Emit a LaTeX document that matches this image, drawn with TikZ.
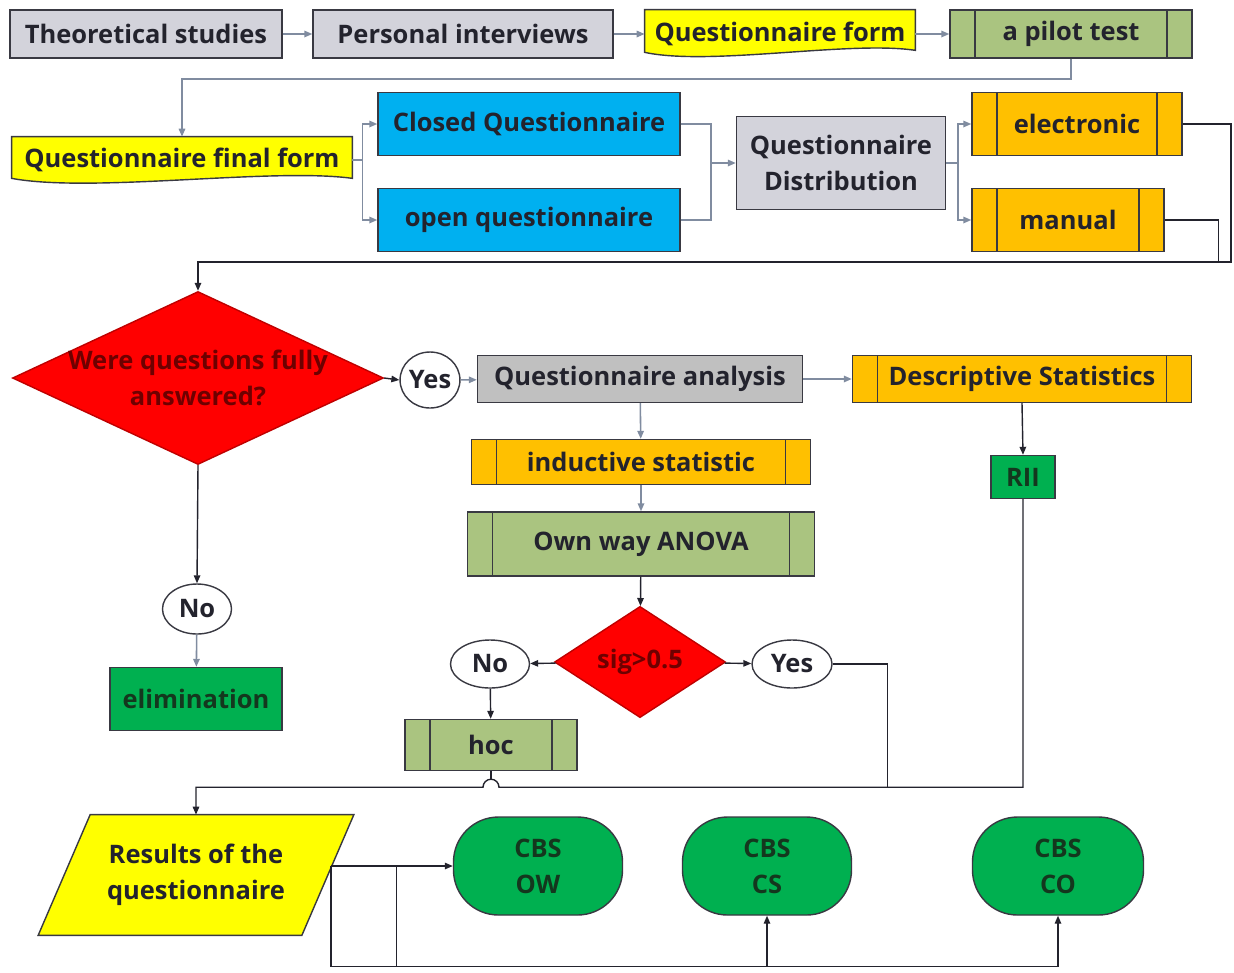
\documentclass[tikz,border=0pt]{standalone}
\usepackage{fontspec}
\setmainfont{Open Sans}
\usetikzlibrary{shapes.geometric, arrows.meta, positioning, calc, backgrounds}

\definecolor{boxgray}{RGB}{211,211,219}
\definecolor{midgray}{RGB}{192,192,192}
\definecolor{docyellow}{RGB}{255,255,0}
\definecolor{procgreen}{RGB}{170,196,128}
\definecolor{qblue}{RGB}{0,176,240}
\definecolor{procorange}{RGB}{255,192,0}
\definecolor{decred}{RGB}{255,0,0}
\definecolor{termgreen}{RGB}{0,176,80}
\definecolor{linkgray}{RGB}{128,140,160}
\definecolor{inkdark}{RGB}{35,35,45}
\definecolor{inkred}{RGB}{110,0,0}
\definecolor{inkgreen}{RGB}{20,55,30}

\tikzset{
  basebox/.style={draw=inkdark!90, line width=0.8pt, text=inkdark, font=\bfseries\fontsize{14.5}{20.5}\selectfont, align=center, inner sep=1pt},
  plainbox/.style={basebox, rectangle, fill=boxgray},
  subbox/.style={basebox, rectangle, path picture={
      \draw[inkdark!90, line width=0.8pt]
        ([xshift=5mm]path picture bounding box.north west) -- ([xshift=5mm]path picture bounding box.south west)
        ([xshift=-5mm]path picture bounding box.north east) -- ([xshift=-5mm]path picture bounding box.south east);}},
  docbox/.style={rectangle, text=inkdark, font=\bfseries\fontsize{14.5}{20.5}\selectfont, align=center, inner sep=1pt},
  docline/.style={fill=docyellow, draw=inkdark!90, line width=0.8pt},
  decision/.style={basebox, diamond, fill=decred, draw=decred!75!black, text=inkred, inner sep=0pt},
  answer/.style={basebox, ellipse, fill=white, inner sep=0pt},
  endbox/.style={basebox, rectangle, fill=termgreen, text=inkgreen},
  glink/.style={draw=linkgray, line width=0.9pt, -{Triangle[length=1.6mm,width=1.3mm]}},
  blink/.style={draw=inkdark, line width=0.8pt, -{Triangle[length=1.6mm,width=1.3mm]}},
  bline/.style={draw=inkdark, line width=0.8pt},
}

\begin{document}
\begin{tikzpicture}[x=0.2mm, y=-0.2mm]
  \useasboundingbox (0,0) rectangle (1234,972);

  % preparation
  \node[plainbox, minimum width=54.4mm, minimum height=9.6mm] (theo) at (146,34) {Theoretical studies};
  \node[plainbox, minimum width=60mm, minimum height=9.6mm] (interv) at (463,34) {Personal interviews};
  \node[docbox, minimum width=54mm, minimum height=9.6mm] (qform) at (780,34) {Questionnaire form};
  \node[subbox, fill=procgreen, minimum width=48.4mm, minimum height=9.6mm] (pilot) at (1071,34) {a pilot test};

  \node[docbox, minimum width=68mm, minimum height=9.2mm] (final) at (182,160) {Questionnaire final form};
  \node[basebox, fill=qblue, minimum width=60.4mm, minimum height=12.6mm] (closed) at (529,124) {Closed Questionnaire};
  \node[basebox, fill=qblue, minimum width=60.4mm, minimum height=12.6mm] (open) at (529,220) {open questionnaire};
  \node[plainbox, minimum width=41.8mm, minimum height=18.6mm] (distr) at (841,163) {Questionnaire\\Distribution};
  \node[subbox, fill=procorange, minimum width=42mm, minimum height=12.6mm] (elec) at (1077,124) {electronic};
  \node[subbox, fill=procorange, minimum width=38.4mm, minimum height=12.6mm] (manual) at (1068,220) {manual};

  % analysis
  \node[decision, minimum width=74.2mm, minimum height=34.6mm,
    label={[name=q1text, text=inkred, font=\bfseries\fontsize{14.5}{20.5}\selectfont, align=center]center:Were questions fully\\answered?}] (q1) at (198,378) {};
  \node[answer, minimum width=11mm, minimum height=11.2mm] (yes1) at (430,380) {Yes};
  \node[basebox, fill=midgray, minimum width=65mm, minimum height=9.4mm] (analysis) at (640,379) {Questionnaire analysis};
  \node[subbox, fill=procorange, minimum width=67.8mm, minimum height=9.4mm] (descr) at (1022,379) {Descriptive Statistics};
  \node[endbox, minimum width=12.8mm, minimum height=8.6mm] (rii) at (1023,477) {RII};
  \node[subbox, fill=procorange, minimum width=67.8mm, minimum height=9mm] (induct) at (641,462) {inductive statistic};
  \node[subbox, fill=procgreen, minimum width=69.4mm, minimum height=12.8mm] (anova) at (641,544) {Own way ANOVA};
  \node[decision, minimum width=34.2mm, minimum height=20.4mm] (sig) at (640,662) {sig>0.5};
  \node[answer, minimum width=15.8mm, minimum height=9.6mm] (no2) at (490,664) {No};
  \node[answer, minimum width=16mm, minimum height=9.6mm] (yes2) at (792,664) {Yes};
  \node[subbox, fill=procgreen, minimum width=34.4mm, minimum height=10.2mm] (hoc) at (491,745) {hoc};
  \node[answer, minimum width=13.8mm, minimum height=10mm] (no1) at (197,609) {No};
  \node[endbox, minimum width=34.4mm, minimum height=12.6mm] (elim) at (196,699) {elimination};

  % results
  \node[docbox, minimum width=52.6mm, minimum height=24mm] (results) at (196,875) {Results of the\\questionnaire};
  \node[endbox, rounded corners=9mm, minimum width=33.8mm, minimum height=19.6mm] (ow) at (538,866) {CBS\\OW};
  \node[endbox, rounded corners=9mm, minimum width=33.8mm, minimum height=19.6mm] (cs) at (767,866) {CBS\\CS};
  \node[endbox, rounded corners=9mm, minimum width=34.2mm, minimum height=19.6mm] (co) at (1058,866) {CBS\\CO};

  \begin{scope}[on background layer]
    \draw[docline] (qform.north west) -- (qform.north east) -- ($(qform.south east)+(0,-8)$)
      .. controls ($(qform.south)+(70,-18)$) and ($(qform.south)+(-70,8)$) .. ($(qform.south west)+(0,-6)$) -- cycle;
    \draw[docline] (final.north west) -- (final.north east) -- ($(final.south east)+(0,-5)$)
      .. controls ($(final.south)+(90,-16)$) and ($(final.south)+(-90,10)$) .. ($(final.south west)+(0,-5)$) -- cycle;
    \draw[docline] ($(results.north west)+(26,0)$) -- ($(results.north east)+(26,0)$)
      -- ($(results.south east)+(-26,0)$) -- ($(results.south west)+(-26,0)$) -- cycle;
  \end{scope}

  % connectors
  \draw[glink] (theo) -- (interv);
  \draw[glink] (interv) -- (qform.west |- interv);
  \draw[glink] (qform.east |- pilot) -- (pilot);
  \draw[glink] (pilot.south) -- ++(0,20) -| (final.north);
  \draw[glink] (final.east) -- ++(10,0) |- (closed.west);
  \draw[glink] (final.east) -- ++(10,0) |- (open.west);
  \draw[glink] (closed.east) -- ++(30,0) coordinate (cmid) |- (distr.west);
  \draw[bline, draw=linkgray, line width=0.9pt] (open.east) -| (cmid);
  \draw[glink] (distr.east) -- ++(12,0) |- (elec.west);
  \draw[glink] (distr.east) -- ++(12,0) |- (manual.west);

  \coordinate (bend) at (1231,262);
  \draw[blink] (elec.east) -| (bend) -| (q1.north);
  \draw[bline] (manual.east) -- ++(54,0) |- (bend);

  \draw[blink] (q1.east) -- (yes1.west);
  \draw[glink] (yes1) -- (analysis);
  \draw[glink] (analysis) -- (descr);
  \draw[blink] (descr.south) -- (rii.north);
  \draw[glink] (analysis) -- (induct);
  \draw[glink] (induct) -- (anova);
  \draw[blink] (anova) -- (sig);
  \draw[blink] (sig) -- (no2);
  \draw[blink] (sig) -- (yes2);
  \draw[blink] (no2) -- (hoc);
  \draw[blink] (q1.south) -- (no1.north);
  \draw[glink] (no1) -- (elim);

  \coordinate (jmp) at ($(hoc.south)+(0,16)$);
  \draw[blink] (rii.south) |- ($(jmp)+(8,0)$) arc[start angle=0, end angle=180, radius=1.6mm] -| (results.north);
  \draw[bline] (hoc.south) -- ($(jmp)+(0,-8)$);
  \path (yes2.east) ++(55,0) coordinate (ycorner);
  \draw[bline] (yes2.east) -- (ycorner) -- (ycorner |- jmp);

  \coordinate (rout) at ($(ow.west -| results.east)+(3,0)$);
  \draw[blink] (rout) -- (ow.west);
  \draw[blink] (rout) |- ($(co.south)+(0,51)$) coordinate (base) -- (co.south);
  \draw[blink] (cs.south |- base) -- (cs.south);
  \coordinate (rmid) at ($(rout)!0.54!(ow.west)$);
  \draw[bline] (rmid) -- (rmid |- base);
\end{tikzpicture}
\end{document}
